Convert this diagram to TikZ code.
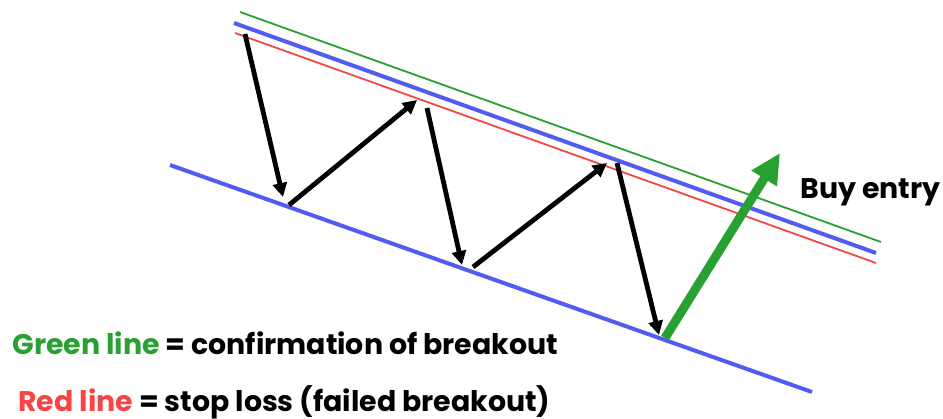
\documentclass[tikz,border=0pt]{standalone}
\usepackage{fontspec}
\setmainfont{Poppins}
\usepackage{xcolor}
\usetikzlibrary{arrows.meta,positioning}
\definecolor{chanblue}{RGB}{82,92,242}
\definecolor{okgreen}{RGB}{40,160,50}
\definecolor{slred}{RGB}{245,70,70}
\tikzset{chan/.style={chanblue,line width=2pt},
  thinline/.style={line width=0.9pt},
  swing/.style={-{Triangle[length=7pt,width=7pt]},line width=2.4pt,black},
  buy/.style={-{Triangle[length=15pt,width=14pt]},line width=4.5pt,okgreen},
  lbl/.style={font=\bfseries\fontsize{14.2}{16}\selectfont,anchor=base west,inner sep=0pt}}
\begin{document}
\begin{tikzpicture}[x=0.5pt,y=-0.5pt]
\useasboundingbox (0,0) rectangle (943,418);
% channel lines
\draw[chan] (170,165) -- (812,392);
\draw[chan] (234,23) -- (876,253);
\draw[okgreen,thinline] (240,12) -- (881,242);
\draw[slred,thinline] (235,33) -- (876,263);
% touch points
\coordinate (t0) at (245,34);  \coordinate (b1) at (283,197);
\coordinate (b1s) at (289,205); \coordinate (t1) at (417,100);
\coordinate (t1s) at (427,108); \coordinate (b2) at (462,265);
\coordinate (b2s) at (473,267); \coordinate (t2) at (607,163);
\coordinate (t2s) at (617,163); \coordinate (b3) at (659,335);
\coordinate (b3s) at (665,338); \coordinate (up) at (780,153);
\draw[swing] (t0)--(b1);
\draw[swing] (b1s)--(t1);
\draw[swing] (t1s)--(b2);
\draw[swing] (b2s)--(t2);
\draw[swing] (t2s)--(b3);
\draw[buy] (b3s)--(up);
% labels
\node[lbl] (entry) at (800,198) {Buy entry};
\node[lbl] (conf) at (12,354) {\textcolor{okgreen}{Green line} = confirmation of breakout};
\node[lbl] (stop) at (18,411) {\textcolor{slred}{Red line} = stop loss (failed breakout)};
\end{tikzpicture}
\end{document}
